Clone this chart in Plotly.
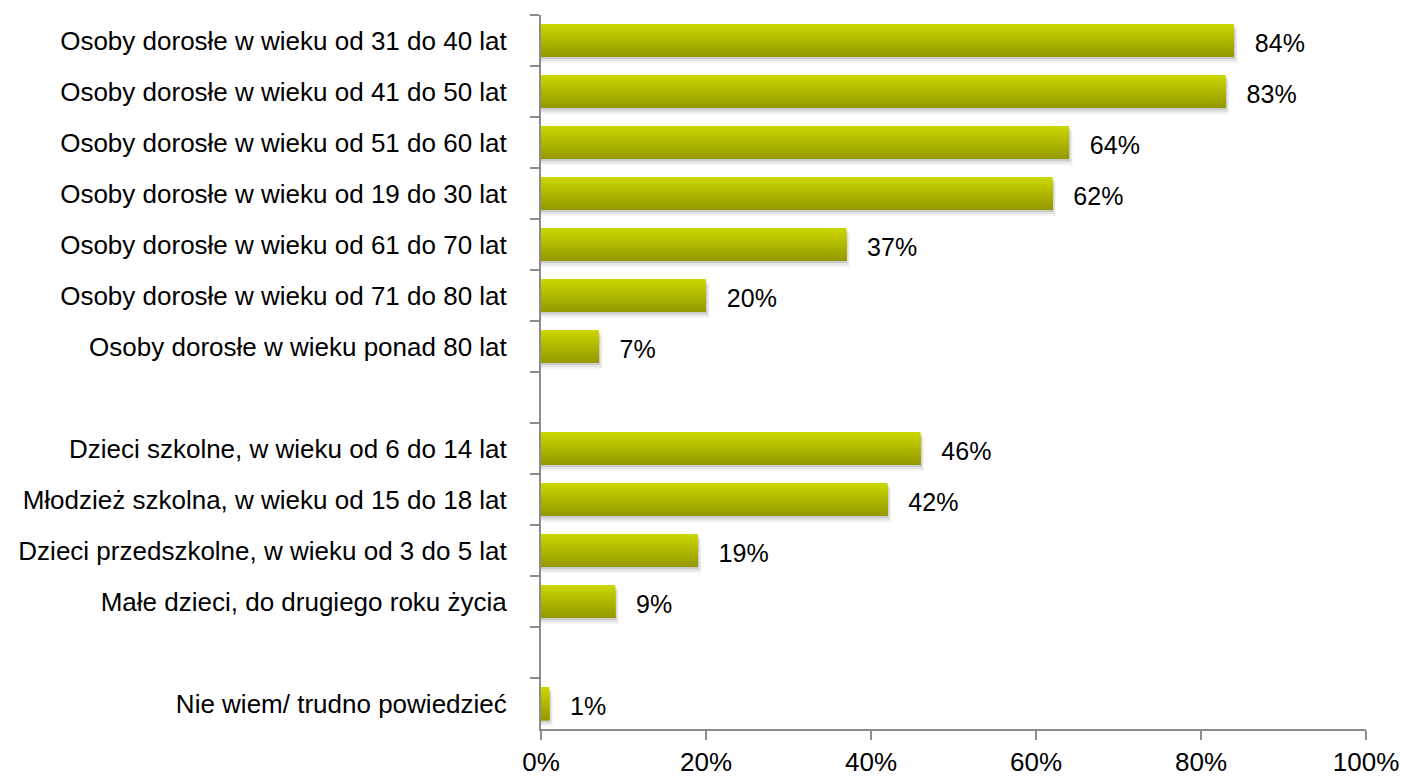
import plotly.graph_objects as go

# categories top to bottom; blank entries are the gaps between groups
categories = [
    "Osoby dorosłe w wieku od 31 do 40 lat",
    "Osoby dorosłe w wieku od 41 do 50 lat",
    "Osoby dorosłe w wieku od 51 do 60 lat",
    "Osoby dorosłe w wieku od 19 do 30 lat",
    "Osoby dorosłe w wieku od 61 do 70 lat",
    "Osoby dorosłe w wieku od 71 do 80 lat",
    "Osoby dorosłe w wieku ponad 80 lat",
    " ",
    "Dzieci szkolne, w wieku od 6 do 14 lat",
    "Młodzież szkolna, w wieku od 15 do 18 lat",
    "Dzieci przedszkolne, w wieku od 3 do 5 lat",
    "Małe dzieci, do drugiego roku życia",
    "  ",
    "Nie wiem/ trudno powiedzieć",
]
values = [84, 83, 64, 62, 37, 20, 7, None, 46, 42, 19, 9, None, 1]
labels = [f"{v}%" if v is not None else "" for v in values]

x_ticks = [0, 20, 40, 60, 80, 100]
x_ticktext = [f"{t}%" for t in x_ticks]

FONT = "Liberation Sans Narrow, Arial Narrow, Liberation Sans, Arial, sans-serif"

fig = go.Figure()

# soft shadow under each bar
for k, (off, alpha) in enumerate([(0.04, 0.10), (0.08, 0.07), (0.12, 0.04)]):
    fig.add_trace(go.Bar(
        y=categories, x=[v + 0.15 * (k + 1) if v is not None else None for v in values],
        orientation="h", width=0.65, offset=-0.325 + off,
        marker=dict(color=f"rgba(0,0,0,{alpha})", line_width=0),
        hoverinfo="skip", showlegend=False,
    ))

# vertical gradient: each layer runs from its own top edge down to the bar bottom
n = 16
top = (202, 214, 0)
bot = (148, 154, 0)
bar_w = 0.65
for i in range(n):
    t = i / (n - 1)
    c = tuple(round(top[j] + (bot[j] - top[j]) * t) for j in range(3))
    fig.add_trace(go.Bar(
        y=categories, x=values, orientation="h",
        width=bar_w - i * bar_w / n, offset=-bar_w / 2 + i * bar_w / n,
        marker=dict(color=f"rgb{c}", line_width=0),
        hoverinfo="skip", showlegend=False,
    ))

# value labels on a twin axis shifted a little so they sit slightly low, as in the original
fig.add_trace(go.Scatter(
    y=categories, x=values, mode="text", yaxis="y2",
    text=["   " + s for s in labels], textposition="middle right",
    textfont=dict(size=25, color="#000000", family=FONT),
    showlegend=False, hoverinfo="skip",
))

fig.update_layout(
    barmode="overlay",
    width=1403, height=782,
    margin=dict(l=541, r=37, t=15, b=53),
    plot_bgcolor="white", paper_bgcolor="white",
    font=dict(family=FONT, size=26, color="#000000"),
    yaxis=dict(
        type="category", categoryorder="array", categoryarray=categories,
        range=[len(categories) - 0.5, -0.5], automargin=False,
        tickson="boundaries", ticks="outside", ticklen=9, tickwidth=2, tickcolor="#8c8c8c",
        showline=True, linecolor="#8c8c8c", linewidth=2, showgrid=False,
        ticklabelstandoff=27, tickfont=dict(size=26),
    ),
    yaxis2=dict(
        type="category", categoryorder="array", categoryarray=categories,
        range=[len(categories) - 0.6, -0.6], overlaying="y", automargin=False,
        showticklabels=False, showline=False, showgrid=False, ticks="",
    ),
    xaxis=dict(
        range=[0, 100], tickvals=x_ticks, ticktext=x_ticktext, automargin=False,
        ticks="outside", ticklen=9, tickwidth=2, tickcolor="#8c8c8c",
        showline=True, linecolor="#8c8c8c", linewidth=2, showgrid=False, zeroline=False,
        tickfont=dict(size=26),
    ),
)

fig.write_html("out.html", config={"displayModeBar": False},
               post_script="document.body.style.margin='0px';")
